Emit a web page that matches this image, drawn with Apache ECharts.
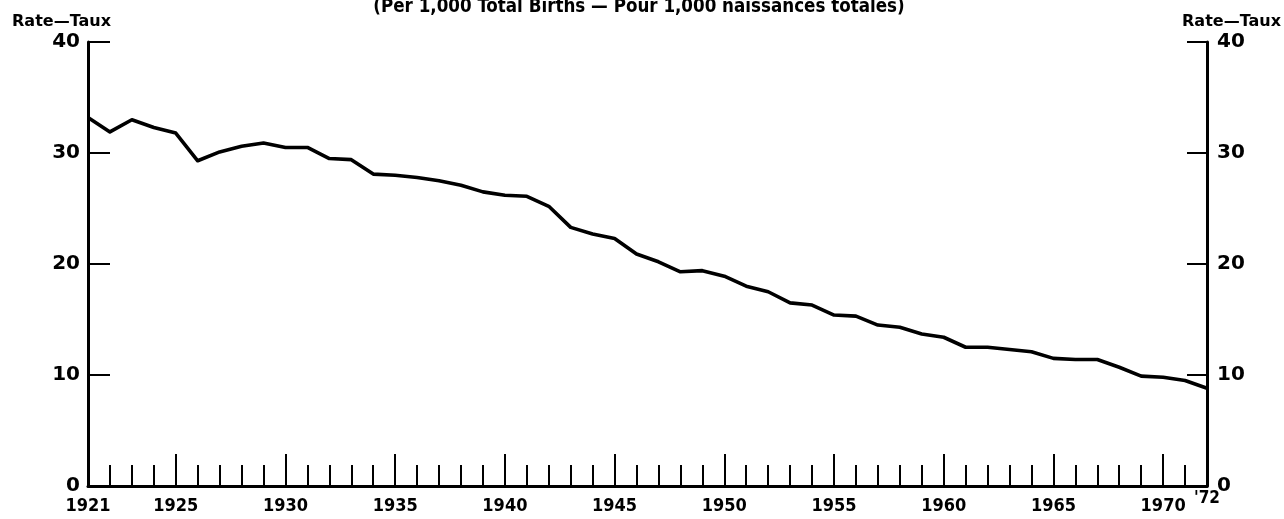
<!DOCTYPE html>
<html>
<head>
<meta charset="utf-8">
<script src="https://cdn.jsdelivr.net/npm/echarts@6/dist/echarts.min.js"></script>
<style>
html,body{margin:0;padding:0;background:#fff;}
#c{width:1284px;height:519px;}
</style>
</head>
<body>
<div id="c"></div>
<script>
var titleText = '(Per 1,000 Total Births \u2014 Pour 1,000 naissances totales)';
var axisName = 'Rate\u2014Taux';
var years = [];
for (var y = 1921; y <= 1972; y++) years.push(String(y));
var rates = [
  33.2, 31.9, 33.0, 32.3, 31.8, 29.3, 30.1, 30.6, 30.9, 30.5,
  30.5, 29.5, 29.4, 28.1, 28.0, 27.8, 27.5, 27.1, 26.5, 26.2,
  26.1, 25.2, 23.3, 22.7, 22.3, 20.9, 20.2, 19.3, 19.4, 18.9,
  18.0, 17.5, 16.5, 16.3, 15.4, 15.3, 14.5, 14.3, 13.7, 13.4,
  12.5, 12.5, 12.3, 12.1, 11.5, 11.4, 11.4, 10.7, 9.9, 9.8,
  9.5, 8.8
];
var labelYears = ['1921','1925','1930','1935','1940','1945','1950','1955','1960','1965','1970','1972'];
var majorYears = ['1925','1930','1935','1940','1945','1950','1955','1960','1965','1970'];

var FONT = 'DejaVu Sans';
var CFONT = 'DejaVu Sans Condensed, DejaVu Sans';
var chart = echarts.init(document.getElementById('c'));
chart.setOption({
  backgroundColor: '#fff',
  animation: false,
  title: {
    text: titleText,
    left: 634, top: -7, textAlign: 'center',
    textStyle: {fontFamily: CFONT, fontSize: 18.6, fontWeight: 'bold', color: '#000'}
  },
  grid: {left: 88, right: 76, top: 42, bottom: 33},
  xAxis: [{
    type: 'category', data: years, boundaryGap: false, position: 'bottom',
    axisLine: {lineStyle: {color: '#000', width: 3}},
    axisTick: {show: true, inside: true, length: 21, interval: 0, lineStyle: {color: '#000', width: 2}},
    axisLabel: {
      interval: function (i, v) { return labelYears.indexOf(v) >= 0; },
      margin: 11, color: '#000', fontFamily: CFONT, fontSize: 18, fontWeight: 'bold',
      formatter: function (v) { return v === '1972' ? '{r|\'72}' : v; },
      rich: {r: {fontFamily: CFONT, fontSize: 17, fontWeight: 'bold', color: '#000', lineHeight: 4}}
    },
    splitLine: {show: false}
  }, {
    type: 'category', data: years, boundaryGap: false, position: 'bottom',
    axisLine: {show: false},
    axisTick: {show: true, inside: true, length: 32,
      interval: function (i, v) { return majorYears.indexOf(v) >= 0; },
      lineStyle: {color: '#000', width: 2}},
    axisLabel: {show: false},
    splitLine: {show: false}
  }],
  yAxis: [{
    type: 'value', min: 0, max: 40, interval: 10, position: 'left',
    name: axisName, nameLocation: 'end', nameGap: 12,
    nameTextStyle: {fontFamily: FONT, fontSize: 16, color: '#000', fontWeight: 'bold', padding: [0, 53, 0, 0]},
    axisLine: {show: true, lineStyle: {color: '#000', width: 3}},
    axisTick: {show: true, inside: true, length: 22, lineStyle: {color: '#000', width: 2}},
    axisLabel: {margin: 8, color: '#000', fontFamily: FONT, fontSize: 20, fontWeight: 'bold'},
    splitLine: {show: false}
  }, {
    type: 'value', min: 0, max: 40, interval: 10, position: 'right',
    name: axisName, nameLocation: 'end', nameGap: 12,
    nameTextStyle: {fontFamily: FONT, fontSize: 16, color: '#000', fontWeight: 'bold', padding: [0, 0, 0, 49]},
    axisLine: {show: true, lineStyle: {color: '#000', width: 3}},
    axisTick: {show: true, inside: true, length: 20, lineStyle: {color: '#000', width: 2}},
    axisLabel: {margin: 10, color: '#000', fontFamily: FONT, fontSize: 20, fontWeight: 'bold'},
    splitLine: {show: false}
  }],
  series: [{
    type: 'line', data: rates, xAxisIndex: 0, yAxisIndex: 0,
    showSymbol: false, symbol: 'none',
    lineStyle: {color: '#000', width: 3.6, join: 'round'}
  }]
});
</script>
</body>
</html>
